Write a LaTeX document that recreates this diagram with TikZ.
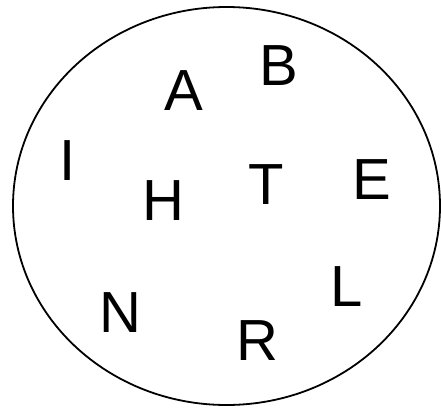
\documentclass[tikz,border=0pt]{standalone}
\usepackage{fontspec}
\setmainfont{Liberation Sans}
\begin{document}
\begin{tikzpicture}[x=1pt,y=-1pt,
  letter/.style={inner sep=0pt, font=\fontsize{58}{58}\selectfont}]
\useasboundingbox (0,0) rectangle (441,410);
\draw[line width=1.8pt] (226.5,206) ellipse [x radius=213.5, y radius=199];
\node[letter] (A) at (184,91) {A};
\node[letter] (B) at (279,66) {B};
\node[letter] (I) at (68,160.5) {I};
\node[letter] (H) at (163,201) {H};
\node[letter] (T) at (266,185) {T};
\node[letter] (E) at (372,180) {E};
\node[letter] (L) at (347,287) {L};
\node[letter] (N) at (120,313) {N};
\node[letter] (R) at (257,341) {R};
\end{tikzpicture}
\end{document}
